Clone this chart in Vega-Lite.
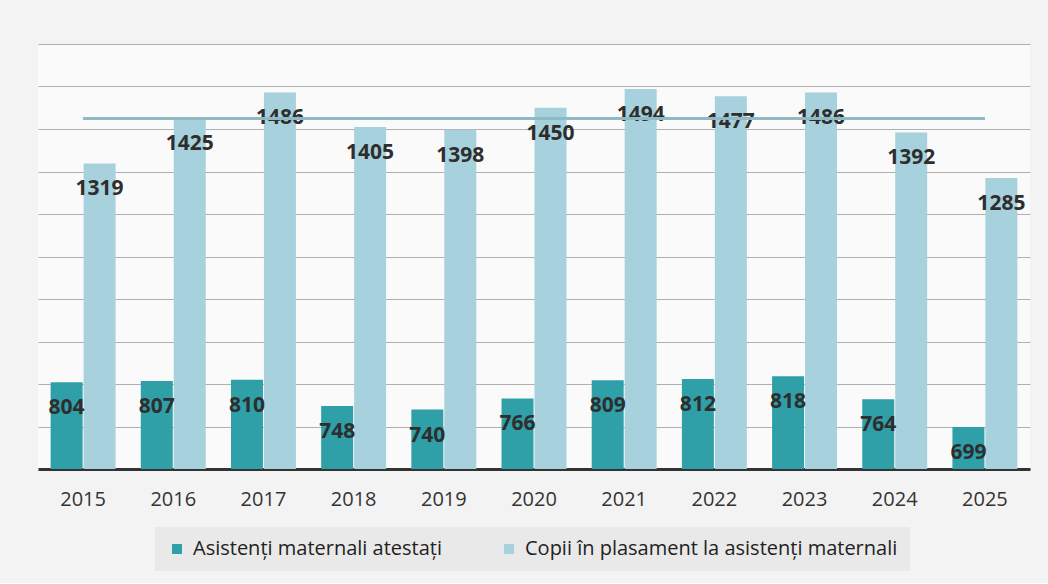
{
  "$schema": "https://vega.github.io/schema/vega-lite/v6.json",
  "width": 992,
  "height": 425,
  "padding": {"left": 38, "top": 44, "right": 18, "bottom": 12},
  "background": "#f3f3f3",
  "config": {
    "view": {"stroke": null, "fill": "#fafafa"},
    "font": "Open Sans"
  },
  "datasets": {
    "bars": [
      {"year": "2015", "series": "Asistenți maternali atestați", "value": 804},
      {"year": "2016", "series": "Asistenți maternali atestați", "value": 807},
      {"year": "2017", "series": "Asistenți maternali atestați", "value": 810},
      {"year": "2018", "series": "Asistenți maternali atestați", "value": 748},
      {"year": "2019", "series": "Asistenți maternali atestați", "value": 740},
      {"year": "2020", "series": "Asistenți maternali atestați", "value": 766},
      {"year": "2021", "series": "Asistenți maternali atestați", "value": 809},
      {"year": "2022", "series": "Asistenți maternali atestați", "value": 812},
      {"year": "2023", "series": "Asistenți maternali atestați", "value": 818},
      {"year": "2024", "series": "Asistenți maternali atestați", "value": 764},
      {"year": "2025", "series": "Asistenți maternali atestați", "value": 699},
      {"year": "2015", "series": "Copii în plasament la asistenți maternali", "value": 1319},
      {"year": "2016", "series": "Copii în plasament la asistenți maternali", "value": 1425},
      {"year": "2017", "series": "Copii în plasament la asistenți maternali", "value": 1486},
      {"year": "2018", "series": "Copii în plasament la asistenți maternali", "value": 1405},
      {"year": "2019", "series": "Copii în plasament la asistenți maternali", "value": 1398},
      {"year": "2020", "series": "Copii în plasament la asistenți maternali", "value": 1450},
      {"year": "2021", "series": "Copii în plasament la asistenți maternali", "value": 1494},
      {"year": "2022", "series": "Copii în plasament la asistenți maternali", "value": 1477},
      {"year": "2023", "series": "Copii în plasament la asistenți maternali", "value": 1486},
      {"year": "2024", "series": "Copii în plasament la asistenți maternali", "value": 1392},
      {"year": "2025", "series": "Copii în plasament la asistenți maternali", "value": 1285}
    ],
    "line": [
      {"year": "2015", "year_end": "2025", "level": 1425}
    ]
  },
  "layer": [
    {
      "data": {"name": "bars"},
      "mark": {"type": "bar"},
      "encoding": {
        "x": {
          "field": "year", "type": "nominal",
          "scale": {"paddingInner": 0.28, "paddingOuter": 0.14},
          "axis": {
            "title": null, "labelAngle": 0, "labelFontSize": 20, "labelColor": "#333333",
            "labelPadding": 20, "ticks": false, "domainColor": "#333333", "domainWidth": 3
          }
        },
        "xOffset": {"field": "series", "type": "nominal", "scale": {"paddingInner": 0.03}},
        "y": {
          "field": "value", "type": "quantitative",
          "scale": {"domain": [600, 1600], "zero": false, "nice": false},
          "axis": {
            "title": null, "labels": false, "ticks": false, "domain": false,
            "values": [600, 700, 800, 900, 1000, 1100, 1200, 1300, 1400, 1500, 1600],
            "gridColor": "#b0b0b0", "gridWidth": 1.2
          }
        },
        "y2": {"datum": 600},
        "color": {
          "field": "series", "type": "nominal",
          "scale": {"domain": ["Asistenți maternali atestați", "Copii în plasament la asistenți maternali"], "range": ["#2f9fa8", "#a6d1dd"]},
          "legend": {
            "title": null, "orient": "none", "legendX": 117, "legendY": 483, "direction": "horizontal",
            "labelFontSize": 20, "labelColor": "#222222", "symbolType": "square",
            "symbolSize": 100, "symbolStrokeWidth": 0, "columnPadding": 56,
            "fillColor": "#e9e9e9", "padding": 12, "labelLimit": 600, "labelOffset": 6
          }
        }
      }
    },
    {
      "data": {"name": "bars"},
      "mark": {"type": "text", "dy": 26, "fontSize": 21, "fontWeight": "bold", "color": "#2e2e2e"},
      "encoding": {
        "x": {"field": "year", "type": "nominal"},
        "xOffset": {"field": "series", "type": "nominal"},
        "y": {"field": "value", "type": "quantitative"},
        "text": {"field": "value", "type": "quantitative"}
      }
    },
    {
      "data": {"name": "line"},
      "mark": {"type": "rule", "color": "#8fbac4", "strokeWidth": 3},
      "encoding": {
        "x": {"field": "year", "type": "nominal", "bandPosition": 0.5},
        "x2": {"field": "year_end", "bandPosition": 0.5},
        "y": {"field": "level", "type": "quantitative"}
      }
    }
  ]
}
